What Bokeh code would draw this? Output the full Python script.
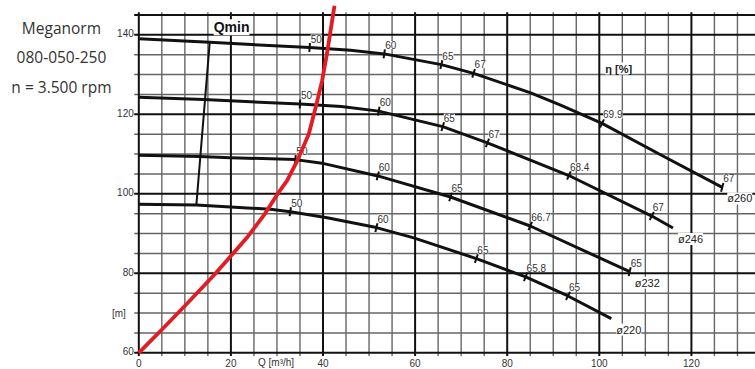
import numpy as np
from bokeh.plotting import figure
from bokeh.models import Range1d, Label
from bokeh.core.properties import value
from bokeh.embed import file_html
from bokeh.resources import INLINE

# ---------------- axis / grid values ----------------
x_tick_values = [0, 20, 40, 60, 80, 100, 120]
x_tick_labels = ["0", "20", "40", "60", "80", "100", "120"]
y_tick_values = [60, 80, 100, 120, 140]
y_tick_labels = ["60", "80", "100", "120", "140"]
grid_q = list(range(0, 135, 5))
grid_h = list(range(60, 150, 5))
major_q = [0, 20, 40, 60, 80, 100, 120]
major_h = [60, 80, 100, 120, 140, 145]

# ---------------- pump curves (Q m3/h, H m) ----------------
q_260 = [0, 15.4, 37.1, 46.0, 53.3, 65.7, 72.7, 85.1, 91.6, 100.6, 113.2, 126.7]
h_260 = [139.0, 138.1, 136.8, 136.1, 135.2, 132.5, 130.3, 125.4, 122.3, 117.7, 109.9, 101.6]

q_246 = [0, 14.1, 35.0, 44.0, 52.1, 66.0, 75.7, 93.4, 111.4, 116.0]
h_246 = [124.3, 123.7, 122.6, 121.95, 120.8, 116.9, 112.8, 104.6, 94.4, 91.4]

q_232 = [0, 13.2, 19.9, 34.0, 40.2, 51.9, 67.7, 85.0, 106.6]
h_232 = [109.7, 109.4, 109.1, 108.6, 107.6, 104.5, 99.2, 91.9, 80.4]

q_220 = [0, 12.5, 28.6, 32.9, 40.9, 51.6, 59.7, 73.3, 84.0, 93.2, 102.6]
h_220 = [97.4, 97.2, 96.1, 95.5, 94.0, 91.5, 88.9, 83.7, 79.1, 74.3, 68.6]

diameters = ["ø260", "ø246", "ø232", "ø220"]

# efficiency marks
m260_q = [37.1, 53.3, 65.7, 72.7, 100.6, 126.7]
m260_h = [136.8, 135.2, 132.5, 130.3, 117.7, 101.6]
m260_t = ["50", "60", "65", "67", "69.9", "67"]

m246_q = [35.0, 52.1, 66.0, 75.7, 93.4, 111.4]
m246_h = [122.6, 120.8, 116.9, 112.8, 104.6, 94.4]
m246_t = ["50", "60", "65", "67", "68.4", "67"]

m232_q = [34.0, 51.9, 67.7, 85.0, 106.6]
m232_h = [108.6, 104.5, 99.2, 91.9, 80.4]
m232_t = ["50", "60", "65", "66.7", "65"]

m220_q = [32.9, 51.6, 73.3, 84.0, 93.2]
m220_h = [95.5, 91.5, 83.7, 79.1, 74.3]
m220_t = ["50", "60", "65", "65.8", "65"]

# Qmin line
qmin_q = [15.4, 12.5]
qmin_h = [138.1, 97.2]

# red curve
red_q = [0, 5.4, 10.5, 16.3, 19.9, 23.5, 27.1, 30.1, 32.2, 34.4, 36.9, 38.4, 39.8, 40.9, 41.7, 42.5]
red_h = [60.0, 66.3, 72.4, 79.5, 84.2, 89.0, 94.5, 99.9, 103.3, 108.3, 115.0, 121.7, 128.4, 135.5, 141.5, 147.3]

info_lines = ["Meganorm", "080-050-250", "n = 3.500 rpm"]

# ---------------- figure ----------------
W, H = 755, 369
xr = Range1d(-30.033, 133.92)
yr = Range1d(55.80, 148.63)
PX_Q = W / (xr.end - xr.start)
PX_H = H / (yr.end - yr.start)

p = figure(width=W, height=H, x_range=xr, y_range=yr,
           x_axis_type=None, y_axis_type=None,
           toolbar_location=None, output_backend="svg", min_border=0)
p.outline_line_color = None
p.background_fill_color = "white"
p.border_fill_color = "white"

FONT = "Liberation Sans"
TICKFONT = value(FONT)

# grid
minor_q = [q for q in grid_q if q not in major_q]
minor_h = [h for h in grid_h if h not in major_h]
p.segment(x0=minor_q, y0=[59.2] * len(minor_q), x1=minor_q, y1=[145.7] * len(minor_q),
          line_color="#666666", line_width=1.4)
p.segment(x0=[-1.0] * len(minor_h), y0=minor_h, x1=[134] * len(minor_h), y1=minor_h,
          line_color="#666666", line_width=1.4)
p.segment(x0=major_q, y0=[59.2] * len(major_q), x1=major_q, y1=[145.7] * len(major_q),
          line_color="#111111", line_width=2)
p.segment(x0=[-1.0] * len(major_h), y0=major_h, x1=[134] * len(major_h), y1=major_h,
          line_color="#111111", line_width=2)

# tick labels
p.text(x=x_tick_values, y=[60] * len(x_tick_values), text=x_tick_labels,
       text_font=TICKFONT, text_font_size="10px", text_color="#333333",
       text_align="center", text_baseline="middle", y_offset=10)
p.text(x=[0] * len(y_tick_values), y=y_tick_values, text=y_tick_labels,
       text_font=TICKFONT, text_font_size="10px", text_color="#333333",
       text_align="right", text_baseline="middle", x_offset=-5, y_offset=-1.5)

# pump curves
curves = [(q_260, h_260), (q_246, h_246), (q_232, h_232), (q_220, h_220)]
for cq, ch in curves:
    p.line(cq, ch, line_color="#111111", line_width=3, line_join="round")

# Qmin
p.line(qmin_q, qmin_h, line_color="#111111", line_width=2)


def tick_angles(cq, ch, mq):
    out = []
    for q in mq:
        h1 = np.interp(q - 1.5, cq, ch)
        h2 = np.interp(q + 1.5, cq, ch)
        ang = np.arctan2((h2 - h1) * PX_H, 3.0 * PX_Q)
        out.append(float(ang + np.pi / 2))
    return out


marks = [(q_260, h_260, m260_q, m260_h, m260_t),
         (q_246, h_246, m246_q, m246_h, m246_t),
         (q_232, h_232, m232_q, m232_h, m232_t),
         (q_220, h_220, m220_q, m220_h, m220_t)]
for cq, ch, mq, mh, mt in marks:
    p.scatter(mq, mh, marker="dash", size=9, angle=tick_angles(cq, ch, mq),
              line_color="#111111", line_width=2)
    p.text(x=mq, y=mh, text=mt, text_font=TICKFONT, text_font_size="10px",
           text_color="#333333", text_align="left", text_baseline="middle",
           x_offset=1, y_offset=-9, background_fill_color="white")

# diameter labels at curve ends
p.text(x=[c[0][-1] for c in curves], y=[c[1][-1] for c in curves], text=diameters,
       text_font=TICKFONT, text_font_size="11px", text_color="#222222",
       text_align="left", text_baseline="middle", x_offset=5, y_offset=11,
       background_fill_color="white")

# red curve
p.line(red_q, red_h, line_color="#e31b23", line_width=3.8, line_join="round")

# free labels
p.add_layout(Label(x=qmin_q[0], y=qmin_h[0], text="Qmin", text_font=FONT,
                   text_font_size="14px", text_font_style="bold", text_color="#111111",
                   text_align="left", text_baseline="middle", x_offset=4, y_offset=15,
                   background_fill_color="white"))
p.add_layout(Label(x=101.3, y=131.5, text="η [%]", text_font=FONT,
                   text_font_size="11px", text_font_style="bold", text_color="#222222",
                   text_align="left", text_baseline="middle",
                   background_fill_color="white"))
p.add_layout(Label(x=29.8, y=60, text="Q [m³/h]", text_font=FONT,
                   text_font_size="10px", text_color="#333333",
                   text_align="center", text_baseline="middle", y_offset=-10))
p.add_layout(Label(x=0, y=70, text="[m]", text_font=FONT,
                   text_font_size="10px", text_color="#333333",
                   text_align="right", text_baseline="middle", x_offset=-13))
for line, yv in zip(info_lines, [141.8, 134.45, 126.9]):
    p.add_layout(Label(x=-16.8, y=yv, text=line, text_font="Open Sans",
                       text_font_size="15.5px", text_color="#333333",
                       text_align="center", text_baseline="middle"))

open("out.html", "w").write(file_html(p, INLINE))
